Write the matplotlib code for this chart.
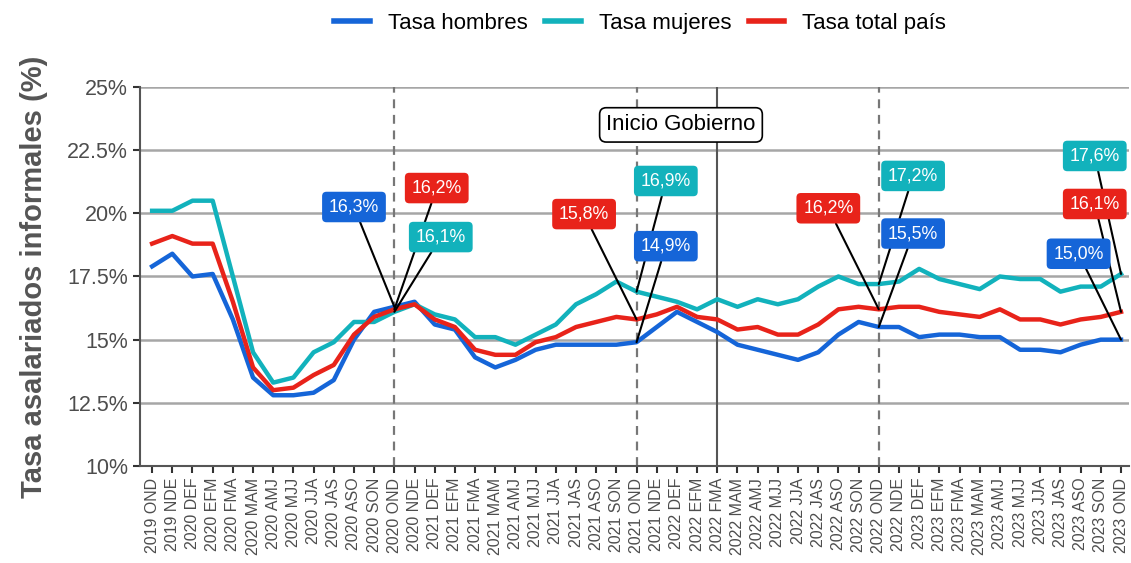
import matplotlib.pyplot as plt
import matplotlib as mpl

mpl.rcParams.update({
    "font.family": ["Liberation Sans", "DejaVu Sans"],
    "font.size": 12,
})

periodos = [
    "2019 OND", "2019 NDE", "2020 DEF", "2020 EFM", "2020 FMA", "2020 MAM",
    "2020 AMJ", "2020 MJJ", "2020 JJA", "2020 JAS", "2020 ASO", "2020 SON",
    "2020 OND", "2020 NDE", "2021 DEF", "2021 EFM", "2021 FMA", "2021 MAM",
    "2021 AMJ", "2021 MJJ", "2021 JJA", "2021 JAS", "2021 ASO", "2021 SON",
    "2021 OND", "2021 NDE", "2022 DEF", "2022 EFM", "2022 FMA", "2022 MAM",
    "2022 AMJ", "2022 MJJ", "2022 JJA", "2022 JAS", "2022 ASO", "2022 SON",
    "2022 OND", "2022 NDE", "2023 DEF", "2023 EFM", "2023 FMA", "2023 MAM",
    "2023 AMJ", "2023 MJJ", "2023 JJA", "2023 JAS", "2023 ASO", "2023 SON",
    "2023 OND",
]

hombres = [17.9, 18.4, 17.5, 17.6, 15.8, 13.5, 12.8, 12.8, 12.9, 13.4,
           15.0, 16.1, 16.3, 16.5, 15.6, 15.4, 14.3, 13.9, 14.2, 14.6,
           14.8, 14.8, 14.8, 14.8, 14.9, 15.5, 16.1, 15.7, 15.3, 14.8,
           14.6, 14.4, 14.2, 14.5, 15.2, 15.7, 15.5, 15.5, 15.1, 15.2,
           15.2, 15.1, 15.1, 14.6, 14.6, 14.5, 14.8, 15.0, 15.0]

mujeres = [20.1, 20.1, 20.5, 20.5, 17.5, 14.5, 13.3, 13.5, 14.5, 14.9,
           15.7, 15.7, 16.1, 16.4, 16.0, 15.8, 15.1, 15.1, 14.8, 15.2,
           15.6, 16.4, 16.8, 17.3, 16.9, 16.7, 16.5, 16.2, 16.6, 16.3,
           16.6, 16.4, 16.6, 17.1, 17.5, 17.2, 17.2, 17.3, 17.8, 17.4,
           17.2, 17.0, 17.5, 17.4, 17.4, 16.9, 17.1, 17.1, 17.6]

total = [18.8, 19.1, 18.8, 18.8, 16.5, 13.9, 13.0, 13.1, 13.6, 14.0,
         15.2, 15.9, 16.2, 16.4, 15.8, 15.5, 14.6, 14.4, 14.4, 14.9,
         15.1, 15.5, 15.7, 15.9, 15.8, 16.0, 16.3, 15.9, 15.8, 15.4,
         15.5, 15.2, 15.2, 15.6, 16.2, 16.3, 16.2, 16.3, 16.3, 16.1,
         16.0, 15.9, 16.2, 15.8, 15.8, 15.6, 15.8, 15.9, 16.1]

y_ticks = [10, 12.5, 15, 17.5, 20, 22.5, 25]
y_ticklabels = ["10%", "12.5%", "15%", "17.5%", "20%", "22.5%", "25%"]

C_H = "#1565d8"
C_M = "#12b2bc"
C_T = "#e8231a"

x = list(range(len(periodos)))

fig = plt.figure(figsize=(11.31, 5.63), dpi=100)
ax = fig.add_axes([0.1238, 0.1723, 0.8745, 0.6732])

for y in y_ticks:
    ax.axhline(y, color="#a6a6a6", lw=1.8, zorder=0)

for i in (12, 24, 36):
    ax.axvline(i, color="#777777", lw=1.6, ls=(0, (4, 3)), zorder=1)
ax.axvline(28, color="#555555", lw=1.5, zorder=1)

ax.plot(x, hombres, color=C_H, lw=3.2, label="Tasa hombres", zorder=3)
ax.plot(x, mujeres, color=C_M, lw=3.2, label="Tasa mujeres", zorder=3)
ax.plot(x, total, color=C_T, lw=3.2, label="Tasa total país", zorder=3)

series = {"h": (hombres, C_H), "m": (mujeres, C_M), "t": (total, C_T)}
# (serie, index, label x, label y)
etiquetas = [
    ("h", 12, 10.0, 20.25), ("t", 12, 14.1, 21.0), ("m", 12, 14.3, 19.06),
    ("t", 24, 21.4, 19.97), ("m", 24, 25.45, 21.28), ("h", 24, 25.45, 18.7),
    ("t", 36, 33.5, 20.2), ("m", 36, 37.7, 21.48), ("h", 36, 37.7, 19.2),
    ("m", 48, 46.7, 22.27), ("t", 48, 46.7, 20.37), ("h", 48, 45.9, 18.4),
]
for k, (s, i, lx, ly) in enumerate(etiquetas):
    vals, col = series[s]
    txt = f"{vals[i]:.1f}%".replace(".", ",")
    ax.annotate(txt, xy=(i, vals[i]), xytext=(lx, ly),
                ha="center", va="center", color="white", fontsize=12.8,
                bbox=dict(boxstyle="round,pad=0.38,rounding_size=0.25",
                          fc=col, ec="none"),
                arrowprops=dict(arrowstyle="-", color="black", lw=1.5,
                                shrinkA=0, shrinkB=0),
                zorder=5 + k)

ax.text(26.2, 23.5, "Inicio Gobierno", ha="center", va="center",
        fontsize=16, color="black", zorder=20,
        bbox=dict(boxstyle="round,pad=0.3,rounding_size=0.3",
                  fc="white", ec="black", lw=1.2))

ax.set_xlim(-0.6, 48.4)
ax.set_ylim(10, 25)
ax.set_xticks(x)
ax.set_xticklabels(periodos, rotation=90, fontsize=11.5, color="#4d4d4d")
ax.set_yticks(y_ticks)
ax.set_yticklabels(y_ticklabels, fontsize=15.5, color="#4d4d4d")
ax.tick_params(axis="both", color="#333333", length=5, width=1.5)

for side in ("top", "right"):
    ax.spines[side].set_visible(False)
for side in ("left", "bottom"):
    ax.spines[side].set_color("#555555")
    ax.spines[side].set_linewidth(1.5)

ax.set_ylabel("Tasa asalariados informales (%)", fontsize=21,
              fontweight="bold", color="#555555", labelpad=14)

fig.legend(loc="center", bbox_to_anchor=(0.566, 0.958), ncol=3,
           frameon=False, fontsize=16, handlelength=1.6,
           columnspacing=0.8, handletextpad=0.8)
for line in fig.legends[0].get_lines():
    line.set_linewidth(4)

fig.savefig("out.png", dpi=100)
